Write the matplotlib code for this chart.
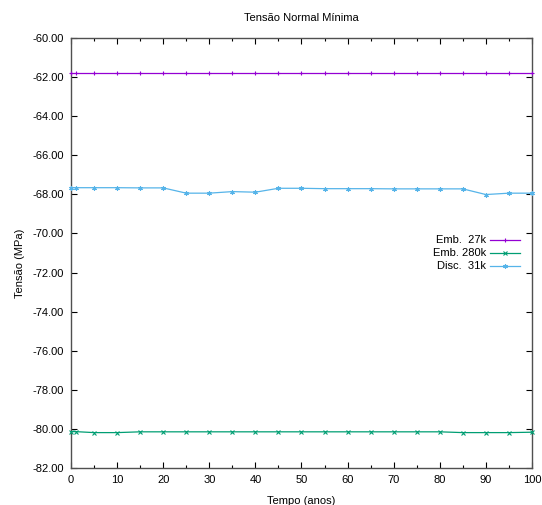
import matplotlib
matplotlib.use("Agg")
import matplotlib.pyplot as plt

plt.rcParams['font.family'] = ['Liberation Sans', 'DejaVu Sans']
plt.rcParams['font.size'] = 8

# tempo (anos)
anos = [0, 1, 5, 10, 15, 20, 25, 30, 35, 40, 45, 50, 55, 60, 65, 70, 75, 80, 85, 90, 95, 100]

emb_27k = [-61.80] * len(anos)
emb_280k = [-80.14, -80.14, -80.19, -80.19, -80.15, -80.15, -80.15, -80.15, -80.15, -80.15, -80.15,
            -80.15, -80.15, -80.15, -80.15, -80.15, -80.15, -80.15, -80.19, -80.19, -80.19, -80.17]
disc_31k = [-67.66, -67.66, -67.66, -67.66, -67.67, -67.67, -67.94, -67.94, -67.86, -67.89, -67.69,
            -67.69, -67.71, -67.71, -67.71, -67.72, -67.72, -67.72, -67.72, -68.01, -67.94, -67.94]

labels = ["Emb.  27k", "Emb. 280k", "Disc.  31k"]
series = [emb_27k, emb_280k, disc_31k]
colors = ["#9400D3", "#009E73", "#56B4E9"]
markers = ["+", "x", (6, 2, 0)]

fig = plt.figure(figsize=(5.42, 5.05), dpi=100)
ax = fig.add_axes([0.131, 0.0733, 0.8505, 0.8515])

for i in range(3):
    ax.plot(anos, series[i], color=colors[i], lw=0.9, marker=markers[i],
            markersize=3.2, markeredgewidth=0.8, clip_on=False, zorder=3)

ax.set_xlim(0, 100)
ax.set_ylim(-82, -60)
ax.set_xticks(range(0, 101, 10))
ax.set_xticks(range(5, 100, 10), minor=True)
ax.set_yticks(range(-82, -59, 2))
ax.set_yticklabels(["%.2f" % v for v in range(-82, -59, 2)])

ax.tick_params(which='both', direction='in', top=True, right=True, colors='black', pad=5)
ax.tick_params(which='major', length=4, width=0.8)
ax.tick_params(which='minor', length=2, width=0.8)
for s in ax.spines.values():
    s.set_color('#505050')
    s.set_linewidth(1)

ax.set_title("Tensão Normal Mínima", fontsize=8, pad=12)
ax.set_ylabel("Tensão (MPa)")
ax.yaxis.set_label_coords(-0.100, 0.475)
ax.set_xlabel("Tempo (anos)", labelpad=8)

# legenda estilo gnuplot (texto à direita, amostra à esquerda)
ly = [0.530, 0.500, 0.470]
for i in range(3):
    ax.text(0.900, ly[i], labels[i], transform=ax.transAxes, ha='right', va='center')
    ax.plot([0.909, 0.974], [ly[i], ly[i]], transform=ax.transAxes, color=colors[i], lw=0.9)
    ax.plot([0.9415], [ly[i]], transform=ax.transAxes, color=colors[i], marker=markers[i],
            markersize=3.2, markeredgewidth=0.8)

fig.savefig("out.png", dpi=100)
